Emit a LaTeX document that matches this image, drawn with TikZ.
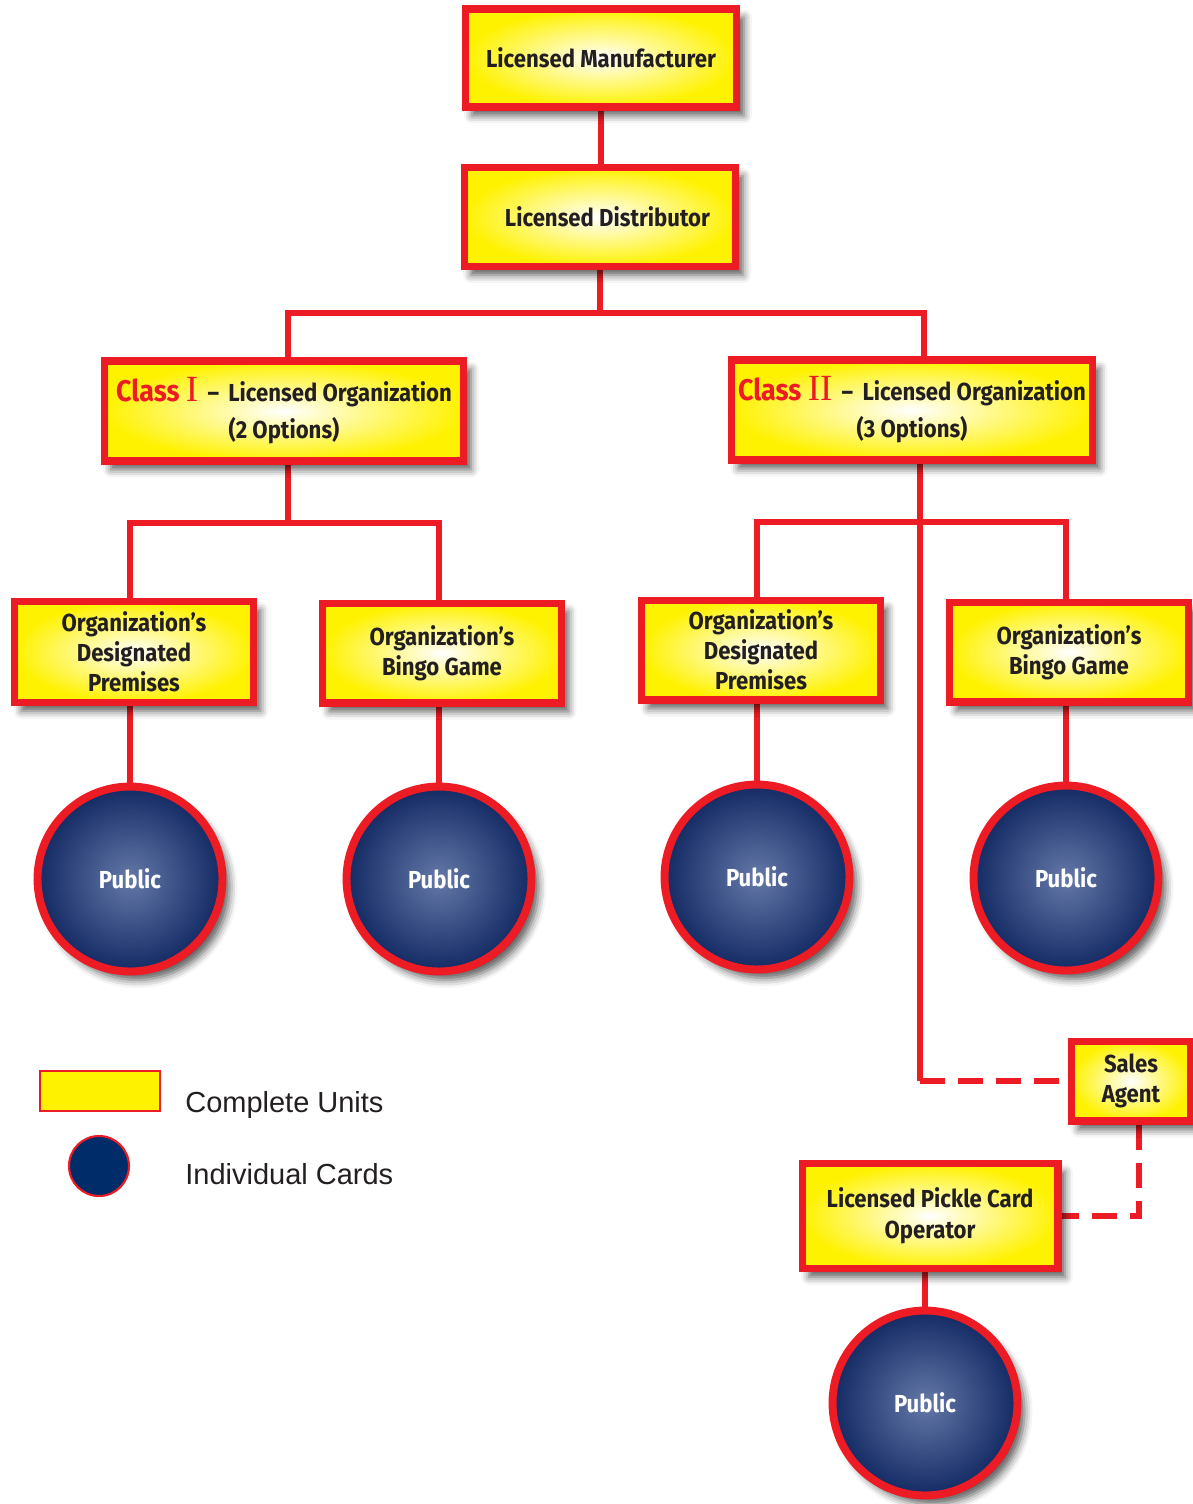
\documentclass[tikz,border=0pt]{standalone}
\usepackage{fontspec}
\setmainfont{Liberation Sans}
\newfontfamily\unitfont[FakeStretch=0.9]{Fira Sans}
\newfontfamily\romfont{Liberation Serif}
\usetikzlibrary{positioning, backgrounds, shadows.blur}

\definecolor{boxred}{RGB}{237,28,36}
\definecolor{boxyellow}{RGB}{255,242,0}
\definecolor{inkdark}{RGB}{35,31,32}
\definecolor{navydeep}{RGB}{20,42,100}
\definecolor{navylight}{RGB}{100,120,168}
\definecolor{navykey}{RGB}{0,45,106}

\pgfdeclareradialshading{unitglow}{\pgfpoint{0bp}{0bp}}{%
  color(0bp)=(white); color(6bp)=(white!75!boxyellow);
  color(25bp)=(boxyellow); color(50bp)=(boxyellow)}
\pgfdeclareradialshading{cardglow}{\pgfpoint{0bp}{0bp}}{%
  color(0bp)=(navylight); color(25bp)=(navydeep); color(50bp)=(navydeep)}

\newcommand{\classtag}[1]{{\color{boxred}\fontsize{17}{21}\selectfont Class
  {\romfont\mdseries\fontsize{21}{21}\selectfont #1}}}

\begin{document}
\begin{tikzpicture}[
    x=0.02cm, y=-0.02cm,
    unit/.style  = {draw=boxred, line width=4pt, shading=unitglow,
                    blur shadow={shadow xshift=0.14cm, shadow yshift=-0.17cm,
                                 shadow blur radius=0.16cm, shadow opacity=65},
                    align=center, text=inkdark, inner sep=0pt,
                    font=\unitfont\bfseries\fontsize{14}{17}\selectfont},
    card/.style  = {circle, draw=boxred, line width=4.5pt, shading=cardglow,
                    blur shadow={shadow xshift=0.14cm, shadow yshift=-0.17cm,
                                 shadow blur radius=0.16cm, shadow opacity=65},
                    minimum size=3.7cm, inner sep=0pt, text=white,
                    font=\unitfont\bfseries\fontsize{14}{17}\selectfont},
    link/.style  = {draw=boxred, line width=2.9pt},
    dashlink/.style = {link, dash pattern=on 0.5cm off 0.26cm},
    keytext/.style  = {anchor=base west, text=inkdark, inner sep=0pt,
                       font=\fontsize{16.5}{19}\selectfont}
  ]
    \useasboundingbox (0,0) rectangle (1193,1504);

    % top of the chain
    \node[unit, minimum width=5.44cm, minimum height=1.96cm] (mfr)  at (601,58)
          {Licensed Manufacturer};
    \node[unit, minimum width=5.44cm, minimum height=1.98cm] (dist) at (600,217)
          {\hspace*{0.3cm}Licensed Distributor};

    % the two classes
    \node[unit, minimum width=7.2cm, minimum height=2.0cm,
          font=\unitfont\bfseries\fontsize{14}{21}\selectfont] (cls1) at (284,411)
          {\classtag{I} \,–\, Licensed Organization\\(2 Options)};
    \node[unit, minimum width=7.22cm, minimum height=2.0cm,
          font=\unitfont\bfseries\fontsize{14}{21}\selectfont] (cls2) at (912,410)
          {\classtag{II} \,–\, Licensed Organization\\(3 Options)};

    % options
    \node[unit, minimum width=4.78cm, minimum height=2.02cm] (org1) at (134,652)
          {Organization’s\\Designated\\Premises};
    \node[unit, minimum width=4.78cm, minimum height=2.0cm]  (org2) at (442,653)
          {Organization’s\\Bingo Game};
    \node[unit, minimum width=4.78cm, minimum height=2.0cm]  (org3) at (761,650)
          {Organization’s\\Designated\\Premises};
    \node[unit, minimum width=4.78cm, minimum height=2.0cm]  (org4) at (1069,652)
          {Organization’s\\Bingo Game};

    \node[card] (pub1) at (130,879) {Public};
    \node[card] (pub2) at (439,879) {Public};
    \node[card] (pub3) at (757,877) {Public};
    \node[card] (pub4) at (1066,878) {Public};

    % pickle card branch
    \node[unit, minimum width=2.38cm, minimum height=1.6cm] (agent) at (1131,1081)
          {Sales\\Agent};
    \node[unit, minimum width=5.12cm, minimum height=2.1cm, text depth=0.12cm,
          font=\unitfont\bfseries\fontsize{14}{18}\selectfont] (pickle) at (930,1216)
          {Licensed Pickle Card\\Operator};
    \node[card] (pub5) at (925,1403) {Public};

    % legend
    \node[draw=boxred, line width=1.2pt, fill=boxyellow,
          minimum width=2.4cm, minimum height=0.8cm] (keyunit) at (100,1091) {};
    \node[circle, draw=boxred, line width=1.2pt, fill=navykey,
          minimum size=1.2cm] (keycard) at (99,1166) {};
    \node[keytext] (keyunitlbl) at (185,1112) {Complete Units};
    \node[keytext] (keycardlbl) at (185,1184) {Individual Cards};

    \coordinate (fork0) at (600,313);
    \coordinate (fork1) at (288,523);
    \coordinate (fork2) at (920,522);
    \coordinate (trunk) at (920,1081);

    \begin{scope}[on background layer]
      \draw[link] (mfr.south) -- (mfr.south |- dist.north);
      \draw[link] (dist.south) -- (fork0);
      \draw[link] (cls1.north -| fork1) |- (fork0) -| (cls2.north -| 924,0);
      \draw[link] (cls1.south -| fork1) -- (fork1);
      \draw[link] (pub1 |- org1.north) |- (fork1) -| (pub2 |- org2.north);
      \draw[link] (cls2.south -| trunk) -- (trunk);
      \draw[link] (pub3 |- org3.north) |- (fork2) -| (pub4 |- org4.north);
      \draw[link] (pub1) -- (pub1 |- org1.south);
      \draw[link] (pub2) -- (pub2 |- org2.south);
      \draw[link] (pub3) -- (pub3 |- org3.south);
      \draw[link] (pub4) -- (pub4 |- org4.south);
      \draw[dashlink] (trunk) -- (agent.west);
      \draw[dashlink] ([xshift=0.16cm]agent.south) |- (pickle.east);
      \draw[link] (pub5) -- (pub5 |- pickle.south);
    \end{scope}
\end{tikzpicture}
\end{document}
